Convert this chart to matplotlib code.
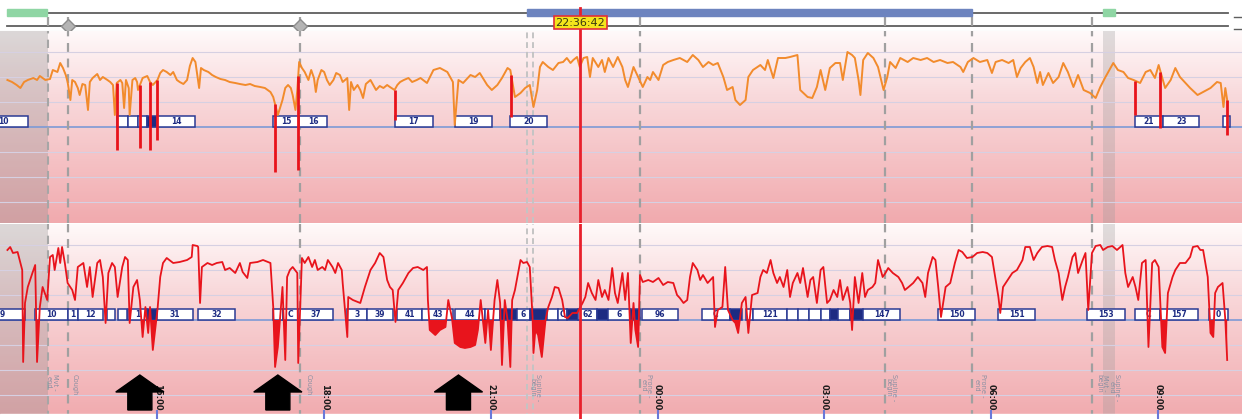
import matplotlib.pyplot as plt
import numpy as np
from matplotlib.colors import LinearSegmentedColormap
from matplotlib.patches import Rectangle, Polygon

# time axis = minutes since recording start (12:10)
START_MIN = 12 * 60 + 10
T_END = 1341

# channel 1 (orange) SpO2, (minutes, %)
top_trace = np.array([
    (8, 94.4), (13, 94.0), (18, 93.4), (22, 92.8), (26, 94.0), (30, 94.4), (36, 94.8), (40, 94.4),
    (43, 95.2), (49, 94.4), (54, 94.6), (57, 96.4), (62, 96.0), (65, 97.8), (68, 96.8), (71, 95.4),
    (73, 94.0), (76, 90.4), (78, 94.4), (81, 94.0), (84, 92.8), (86, 91.4), (89, 93.6), (92, 93.4),
    (95, 88.4), (97, 94.0), (100, 94.8), (105, 95.6), (108, 94.4), (111, 95.0), (116, 94.4), (119, 94.0),
    (122, 93.4), (124, 87.4), (126, 93.8), (130, 94.4), (132, 93.8), (134, 88.8), (136, 94.4), (139, 92.8),
    (140, 87.4), (143, 94.4), (146, 94.8), (148, 94.0), (149, 92.4), (154, 94.8), (159, 95.2), (162, 94.0),
    (165, 93.4), (170, 94.4), (173, 95.8), (176, 96.4), (180, 96.0), (184, 95.4), (187, 96.0), (191, 94.4),
    (194, 94.0), (198, 93.6), (202, 94.4), (205, 97.2), (208, 98.8), (211, 98.0), (213, 95.4), (215, 92.8),
    (217, 96.8), (220, 96.4), (225, 96.0), (229, 95.4), (233, 95.0), (238, 94.6), (243, 94.4), (248, 94.0),
    (254, 93.8), (259, 93.6), (265, 93.4), (270, 93.6), (275, 93.2), (281, 93.0), (286, 92.8), (292, 92.0),
    (295, 91.0), (300, 87.4), (305, 90.4), (308, 92.8), (311, 93.4), (314, 92.8), (316, 91.4), (319, 88.4),
    (321, 92.4), (323, 98.0), (326, 96.8), (329, 96.0), (333, 94.4), (336, 96.4), (339, 94.8), (341, 92.0),
    (343, 94.4), (347, 96.4), (350, 96.0), (353, 94.4), (356, 93.4), (360, 94.4), (363, 95.8), (367, 95.4),
    (370, 94.0), (375, 94.8), (377, 88.4), (379, 94.0), (382, 92.4), (386, 93.4), (389, 92.4), (392, 90.8),
    (395, 93.6), (400, 94.4), (403, 93.4), (406, 92.4), (410, 93.2), (414, 92.8), (418, 93.4), (421, 93.0),
    (426, 92.4), (429, 93.4), (432, 94.0), (436, 94.4), (441, 94.8), (445, 94.0), (450, 94.4), (454, 94.8),
    (461, 93.8), (468, 96.4), (475, 96.8), (483, 96.0), (489, 94.0), (491, 85.4), (495, 94.4), (500, 93.8),
    (508, 95.4), (513, 95.0), (518, 95.8), (526, 93.4), (531, 92.4), (537, 93.4), (542, 94.8), (548, 96.8),
    (551, 96.4), (556, 91.0), (562, 91.8), (567, 92.8), (572, 93.4), (576, 89.0), (580, 92.4), (583, 97.0),
    (586, 98.0), (592, 97.0), (597, 96.4), (603, 97.8), (608, 98.0), (612, 98.8), (616, 97.8), (619, 98.4),
    (623, 99.0), (626, 97.0), (630, 98.8), (634, 99.0), (637, 95.0), (640, 98.8), (646, 97.0), (650, 98.4),
    (653, 96.0), (657, 98.8), (662, 97.0), (667, 99.0), (672, 97.0), (675, 94.4), (678, 93.0), (684, 97.0),
    (689, 95.0), (694, 93.0), (699, 95.0), (702, 94.4), (705, 96.0), (711, 94.4), (716, 97.4), (721, 98.0),
    (727, 98.4), (734, 98.8), (742, 98.0), (748, 99.4), (754, 98.4), (759, 97.0), (765, 98.0), (770, 97.4),
    (775, 97.8), (781, 95.0), (785, 92.4), (791, 93.0), (794, 90.4), (799, 89.4), (805, 90.4), (808, 95.0),
    (813, 96.4), (821, 97.4), (826, 96.4), (829, 98.4), (835, 94.8), (840, 98.8), (848, 98.8), (853, 99.0),
    (861, 99.4), (864, 92.4), (872, 91.0), (877, 90.8), (882, 93.0), (886, 96.4), (891, 92.4), (896, 96.8),
    (902, 97.8), (907, 97.8), (910, 94.4), (915, 100.0), (920, 99.4), (923, 98.8), (927, 94.4), (929, 91.4),
    (932, 98.4), (937, 99.8), (943, 98.8), (948, 97.0), (954, 92.4), (958, 95.0), (961, 98.0), (967, 96.8),
    (972, 98.8), (980, 98.0), (986, 98.8), (994, 98.4), (1001, 98.8), (1008, 98.0), (1015, 98.4), (1023, 97.8),
    (1029, 98.0), (1037, 97.0), (1040, 96.0), (1045, 98.0), (1051, 98.8), (1058, 98.0), (1066, 98.4), (1071, 95.8),
    (1075, 98.0), (1082, 98.4), (1089, 97.8), (1094, 98.4), (1098, 95.0), (1102, 96.8), (1107, 98.0), (1112, 98.8),
    (1116, 97.0), (1120, 93.8), (1123, 96.0), (1126, 93.4), (1132, 95.8), (1137, 93.8), (1143, 95.0), (1148, 97.8),
    (1153, 96.0), (1159, 93.0), (1164, 95.4), (1170, 92.4), (1177, 91.8), (1183, 90.8), (1188, 93.0), (1193, 94.8),
    (1199, 96.8), (1202, 97.8), (1207, 96.4), (1213, 96.0), (1218, 94.8), (1224, 94.4), (1231, 93.8), (1237, 96.0),
    (1242, 96.4), (1247, 94.8), (1251, 97.4), (1258, 92.8), (1264, 94.4), (1269, 96.8), (1274, 95.0), (1280, 93.8),
    (1285, 92.8), (1293, 91.4), (1299, 92.0), (1307, 92.8), (1314, 94.0), (1318, 93.8), (1321, 89.0), (1323, 92.8),
    (1325, 90.4),
])

# flagged desaturations on channel 1 (minute, nadir %)
top_desat_t = [126, 151, 162, 170, 297, 322, 426, 552, 1226, 1253, 1325]
top_desat_nadir = [80.4, 80.8, 80.4, 82.4, 76.0, 76.4, 86.4, 87.0, 87.4, 84.8, 83.4]

# channel 2 (red) SpO2, (minutes, %)
bot_trace = np.array([
    (8, 99.0), (11, 99.6), (14, 98.4), (19, 98.6), (24, 95.0), (25, 76.6), (27, 88.4), (30, 91.6),
    (35, 94.4), (38, 96.0), (40, 76.6), (43, 87.6), (46, 91.6), (51, 89.0), (54, 97.6), (57, 98.0),
    (59, 95.0), (63, 99.4), (65, 96.4), (67, 99.6), (70, 96.4), (73, 92.4), (78, 91.0), (81, 89.0),
    (84, 95.6), (90, 96.4), (94, 91.6), (97, 95.6), (100, 89.6), (105, 96.4), (108, 97.0), (111, 93.6),
    (114, 84.4), (117, 94.4), (121, 96.4), (124, 95.6), (127, 89.6), (132, 95.6), (135, 97.6), (138, 97.0),
    (140, 84.4), (144, 91.6), (148, 93.0), (151, 89.0), (154, 81.6), (157, 87.6), (160, 82.4), (162, 87.6),
    (165, 79.0), (170, 87.0), (173, 93.6), (176, 96.4), (180, 97.4), (187, 96.4), (194, 96.6), (202, 97.0),
    (207, 97.6), (208, 100.0), (213, 99.8), (214, 99.6), (216, 88.4), (218, 95.6), (224, 96.4), (229, 96.0),
    (234, 96.4), (240, 96.6), (243, 95.0), (248, 95.4), (254, 94.4), (259, 96.4), (262, 94.6), (267, 93.4),
    (270, 96.4), (278, 96.6), (284, 97.0), (292, 96.4), (295, 87.6), (297, 75.6), (300, 79.6), (305, 91.6),
    (308, 77.0), (310, 93.6), (313, 95.0), (316, 95.6), (321, 94.4), (322, 76.4), (326, 97.4), (329, 96.4),
    (333, 97.6), (337, 95.6), (340, 97.0), (343, 95.0), (348, 95.6), (351, 95.0), (354, 97.0), (359, 95.6),
    (362, 94.4), (365, 96.4), (369, 95.0), (370, 92.4), (375, 81.6), (376, 89.6), (381, 89.0), (389, 88.4),
    (394, 91.6), (400, 95.0), (405, 96.4), (410, 98.4), (414, 97.6), (418, 93.0), (421, 91.6), (424, 91.0),
    (427, 84.6), (430, 91.0), (435, 92.4), (441, 94.4), (446, 95.4), (451, 95.6), (457, 95.0), (461, 95.6),
    (462, 89.0), (464, 83.0), (470, 82.0), (475, 83.0), (481, 83.6), (484, 89.0), (488, 85.4), (491, 80.4),
    (497, 79.6), (502, 79.4), (508, 79.6), (513, 80.0), (516, 83.0), (519, 89.0), (524, 80.4), (527, 87.0),
    (530, 79.0), (534, 89.0), (537, 93.0), (540, 88.4), (542, 76.0), (545, 89.0), (548, 85.0), (551, 75.6),
    (553, 89.0), (556, 91.0), (559, 94.0), (562, 97.0), (565, 96.4), (569, 96.6), (572, 95.6), (575, 85.6),
    (576, 78.4), (578, 83.0), (581, 82.0), (585, 77.6), (589, 85.0), (592, 87.6), (596, 89.6), (599, 91.6),
    (603, 91.4), (607, 89.0), (610, 85.6), (613, 85.4), (618, 86.4), (623, 86.4), (629, 88.4), (632, 89.6),
    (635, 92.4), (639, 90.4), (643, 89.0), (646, 93.0), (650, 89.6), (653, 91.0), (657, 89.0), (661, 95.4),
    (664, 90.4), (667, 88.4), (672, 94.4), (675, 89.0), (678, 94.4), (681, 80.4), (684, 88.4), (686, 83.0),
    (689, 79.6), (691, 94.0), (694, 92.6), (700, 93.0), (705, 92.6), (711, 93.4), (716, 92.0), (721, 92.6),
    (727, 92.4), (731, 90.0), (734, 89.4), (738, 88.4), (742, 89.0), (745, 93.6), (748, 96.4), (753, 95.0),
    (756, 93.0), (759, 94.0), (764, 92.4), (767, 93.0), (770, 93.6), (772, 83.6), (775, 87.0), (780, 87.6),
    (783, 95.6), (786, 87.0), (791, 85.0), (794, 84.4), (797, 82.4), (801, 88.4), (805, 89.6), (808, 82.4),
    (812, 90.0), (818, 90.4), (821, 93.6), (824, 95.0), (828, 94.4), (832, 97.0), (835, 94.4), (839, 92.4),
    (842, 93.6), (846, 91.6), (850, 95.0), (853, 89.6), (856, 92.4), (861, 94.4), (864, 92.4), (867, 95.4),
    (872, 89.6), (875, 93.0), (878, 93.6), (882, 88.4), (886, 95.0), (889, 95.6), (893, 88.4), (896, 89.0),
    (900, 91.0), (904, 89.6), (907, 93.0), (910, 89.0), (915, 91.6), (918, 88.4), (920, 83.0), (923, 93.6),
    (927, 88.4), (931, 94.4), (934, 89.6), (937, 91.0), (942, 91.6), (945, 92.4), (948, 97.0), (953, 93.6),
    (956, 94.4), (959, 95.4), (964, 94.4), (970, 93.6), (974, 92.4), (977, 91.0), (981, 91.6), (986, 92.4),
    (991, 93.6), (996, 92.4), (999, 89.6), (1002, 94.4), (1007, 97.6), (1010, 97.0), (1013, 91.6), (1016, 85.6),
    (1021, 91.6), (1026, 92.4), (1031, 96.4), (1035, 99.0), (1039, 98.6), (1044, 97.4), (1050, 97.6), (1055, 98.4),
    (1061, 98.6), (1066, 98.4), (1071, 97.6), (1075, 93.0), (1078, 89.6), (1080, 86.4), (1083, 91.6), (1088, 93.0),
    (1093, 94.4), (1098, 95.0), (1104, 97.0), (1107, 99.6), (1112, 99.6), (1116, 97.0), (1120, 98.4), (1125, 99.6),
    (1131, 99.8), (1136, 99.6), (1139, 97.0), (1143, 94.4), (1147, 89.0), (1150, 91.6), (1153, 93.6), (1158, 97.6),
    (1161, 98.4), (1164, 94.4), (1169, 97.0), (1172, 98.4), (1175, 87.0), (1179, 98.4), (1183, 99.8), (1188, 100.0),
    (1191, 99.0), (1196, 99.6), (1201, 99.8), (1206, 99.0), (1212, 100.0), (1215, 94.4), (1218, 91.6), (1223, 93.6),
    (1226, 91.6), (1229, 89.0), (1233, 96.4), (1237, 97.0), (1240, 79.6), (1244, 96.4), (1247, 97.0), (1251, 95.6),
    (1255, 79.6), (1258, 78.4), (1261, 90.4), (1266, 93.6), (1269, 95.0), (1274, 96.4), (1280, 96.4), (1285, 97.6),
    (1288, 99.6), (1293, 99.8), (1296, 99.0), (1299, 99.0), (1304, 93.6), (1307, 82.4), (1310, 81.6), (1312, 90.4),
    (1315, 91.6), (1320, 92.4), (1323, 85.0), (1325, 77.0),
])

# scored events (start min, end min, number); None = selected/dark event
top_events = [
    (-22, 30, "10"), (126, 138, ""), (138, 149, ""), (149, 159, ""), (159, 170, None), (170, 211, "14"),
    (295, 323, "15"), (323, 353, "16"), (426, 467, "17"), (491, 531, "19"), (551, 591, "20"),
    (1225, 1256, "21"), (1256, 1295, "23"), (1321, 1328, ""),
]
bot_events = [
    (-22, 27, "9"), (38, 73, "10"), (73, 84, "1"), (84, 111, "12"), (116, 124, ""), (127, 137, ""),
    (138, 159, "1"), (159, 170, None), (170, 208, "31"), (214, 254, "32"), (295, 306, ""), (306, 322, "C"),
    (322, 360, "37"), (375, 396, "3"), (396, 424, "39"), (429, 456, "41"), (456, 489, "43"), (491, 524, "44"),
    (524, 540, ""), (540, 558, None), (558, 572, "6"), (572, 589, None), (591, 602, ""), (602, 612, "C"),
    (612, 624, None), (624, 645, "62"), (645, 656, None), (656, 680, "6"), (680, 691, None), (693, 732, "96"),
    (758, 788, "C"), (788, 801, None), (805, 813, ""), (813, 850, "121"), (850, 862, ""), (862, 873, ""),
    (873, 886, ""), (886, 896, ""), (896, 905, None), (905, 918, ""), (918, 932, None), (932, 972, "147"),
    (1013, 1053, "150"), (1078, 1118, "151"), (1174, 1215, "153"), (1226, 1253, "C"), (1253, 1293, "157"),
    (1305, 1326, "0"),
]

excluded_end = 52
marker_t = [73, 324, 691, 956, 1050, 1179]
marker_pair_t = [569, 575]
artifact_span = (1191, 1204)
analysis_span = (569, 1050)
cursor_label = "22:36:42"
arrow_t = [151, 300, 495]
clock_labels = ["15:00", "18:00", "21:00", "00:00", "03:00", "06:00", "09:00"]
note_t = [56, 81, 333, 578, 698, 962, 1058, 1190, 1203]
note_text = ["Mvt -\nend", "Cough", "Cough", "Supine -\nbegin", "Prone -\nend",
             "Supine -\nbegin", "Prone -\nend", "Mvt -\nbegin", "Supine -\nend"]


def clock_to_min(label):
    h, m = label.split(":")[:2]
    return (int(h) * 60 + int(m) - START_MIN) % (24 * 60)


tick_t = [clock_to_min(c) for c in clock_labels]
hh, mm, ss = (int(v) for v in cursor_label.split(":"))
cursor_t = (hh * 60 + mm + ss / 60 - START_MIN) % (24 * 60)

H = 419
fig = plt.figure(figsize=(12.42, 4.19), dpi=100)


def band(y0, y1):
    return [0, 1 - y1 / H, 1, (y1 - y0) / H]


ax_s = fig.add_axes(band(0, 31))
ax_t = fig.add_axes(band(31, 223))
ax_b = fig.add_axes(band(224, 419))

pink = LinearSegmentedColormap.from_list("pk", ["#fffafa", "#f9dadc", "#f5c2c5", "#f1aaae"])
grad = np.linspace(0, 1, 256).reshape(-1, 1)

panels = [(ax_t, 65.8, 104.2), (ax_b, 65.2, 104.2)]
for ax, ylo, yhi in panels:
    ax.imshow(grad, extent=[0, T_END, ylo, yhi], aspect="auto", cmap=pink, origin="upper", zorder=0)
    ax.axvspan(0, excluded_end, color="#8a8a8a", alpha=0.3, lw=0, zorder=1)
    ax.axvspan(*artifact_span, color="#9a9a9a", alpha=0.3, lw=0, zorder=1)
    for v in [100, 95, 90, 80, 75, 70]:
        ax.axhline(v, color="#d6d0e2", lw=0.8, zorder=1.5)
    ax.axhline(85, color="#7d9ad6", lw=1.2, zorder=2)
    ax.axvline(excluded_end, color="#a6a6a6", lw=1.5, ls=(0, (4, 3)), zorder=2)
    for t in marker_t:
        ax.axvline(t, color="#a0a0a0", lw=1.6, ls=(0, (4, 3)), zorder=2)
    for t in marker_pair_t:
        ax.axvline(t, color="#c4c4c4", lw=1.4, ls=(0, (3, 2)), zorder=2)
    ax.axvline(cursor_t, color="#e8202c", lw=2, zorder=6)
    ax.set_xlim(0, T_END)
    ax.set_ylim(ylo, yhi)
    ax.axis("off")


def draw_events(ax, events):
    for start, end, label in events:
        dark = label is None
        box = Rectangle((start, 85.0), end - start, 2.2, facecolor="#1d2b82" if dark else "white",
                        edgecolor="#2b3a94", lw=1.1, zorder=3)
        ax.add_patch(box)
        if label:
            txt = ax.text((start + end) / 2, 86.1, label, ha="center", va="center", fontsize=5.5,
                          fontweight="bold", color="#1d2b82", zorder=3.5)
            txt.set_clip_path(box)


draw_events(ax_t, top_events)
draw_events(ax_b, bot_events)

# channel 1
ax_t.plot(top_trace[:, 0], top_trace[:, 1], color="#f28b2c", lw=1.4, zorder=4)
base = np.interp(top_desat_t, top_trace[:, 0], top_trace[:, 1])
ax_t.vlines(top_desat_t, top_desat_nadir, base, color="#e8131b", lw=2, zorder=5)

# channel 2
bt, bs = bot_trace[:, 0], bot_trace[:, 1]
ax_b.fill_between(bt, bs, 85, where=bs < 85, interpolate=True, color="#e8141c", lw=0, zorder=4)
ax_b.plot(bt, bs, color="#e8141c", lw=1.3, zorder=4)

# time axis along bottom
ax_b.axhspan(65.2, 66.2, color="white", zorder=5)
ax_b.vlines(tick_t, 65.2, 67.0, color="#6a78d8", lw=1.5, zorder=6)
for t, lab in zip(tick_t, clock_labels):
    ax_b.text(t, 69.6, lab, rotation=-90, ha="center", va="center", fontsize=6,
              fontweight="bold", color="#1a1a1a", zorder=6)
for t, txt in zip(note_t, note_text):
    ax_b.text(t, 74.2, txt, rotation=-90, ha="center", va="top", fontsize=4.8,
              color="#8a90a2", zorder=6, linespacing=1.0)
for t in arrow_t:
    pts = [(t, 74.0), (t + 26, 70.6), (t + 13, 70.6), (t + 13, 67.0),
           (t - 13, 67.0), (t - 13, 70.6), (t - 26, 70.6)]
    ax_b.add_patch(Polygon(pts, closed=True, color="black", zorder=7))

# top strip: periods, markers and cursor
ax_s.set_xlim(0, T_END)
ax_s.set_ylim(31, 0)
ax_s.axis("off")
ax_s.plot([51, 1326], [13, 13], color="#5e5e5e", lw=1.3)
ax_s.plot([8, 1326], [26, 26], color="#5e5e5e", lw=1.3)
ax_s.plot([1332, T_END], [17, 17], color="#5e5e5e", lw=1.0)
ax_s.plot([1332, T_END], [29, 29], color="#5e5e5e", lw=1.0)
ax_s.add_patch(Rectangle((8, 9.5), excluded_end - 9, 6.5, color="#8fd6a4", zorder=3))
ax_s.add_patch(Rectangle((artifact_span[0], 9.5), artifact_span[1] - artifact_span[0], 6.5,
                         color="#8fd6a4", zorder=3))
ax_s.add_patch(Rectangle((analysis_span[0], 9.5), analysis_span[1] - analysis_span[0], 6.5,
                         color="#6d84bf", zorder=3))
for t in marker_t + [excluded_end]:
    ax_s.plot([t, t], [17, 31], color="#a0a0a0", lw=1.6, ls=(0, (4, 3)), zorder=2)
ax_s.plot(marker_t[:2], [26, 26], "D", ms=7, mfc="#b4b4b4", mec="#8c8c8c", zorder=4)
ax_s.plot([cursor_t, cursor_t], [8, 31], color="#e8202c", lw=2, zorder=5)
ax_s.text(cursor_t, 22.5, cursor_label, ha="center", va="center", fontsize=8, color="#3a3a10",
          bbox=dict(boxstyle="square,pad=0.12", fc="#f4e51c", ec="#e0303a", lw=1.2), zorder=7)
ax_s.axhline(31, color="#cfcfcf", lw=0.8)

fig.savefig("out.png", dpi=100)
